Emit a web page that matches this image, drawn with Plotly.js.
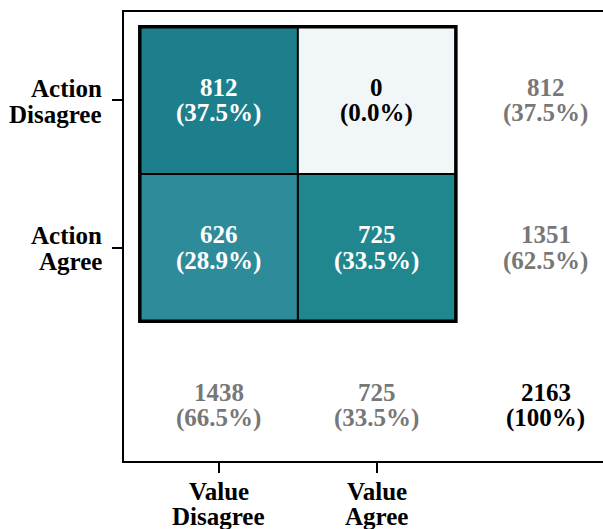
<!DOCTYPE html>
<html>
<head>
<meta charset="utf-8">
<script src="https://cdn.plot.ly/plotly-3.0.1.min.js"></script>
<style>
html,body{margin:0;padding:0;overflow:hidden;background:#fff;}
#chart{width:620px;height:529px;}
</style>
</head>
<body>
<div id="chart"></div>
<script>
// Data
const colLabels = ["Value Disagree", "Value Agree"];
const rowLabels = ["Action Disagree", "Action Agree"];
const colTickLines = [["Value", "Disagree"], ["Value", "Agree"]];
const rowTickLines = [["Action", "Disagree"], ["Action", "Agree"]];
const counts = [[812, 0], [626, 725]];
const rowTotals = [812, 1351];
const colTotals = [1438, 725];
const grandTotal = 2163;

const total = grandTotal;
const pct = v => (100 * v / total).toFixed(1) + "%";

const FONT = "'Liberation Serif', 'Times New Roman', Times, serif";
const FS = 25;
const LS = 13; // half line spacing

const heat = {
  type: "heatmap",
  x: [0, 1],
  y: [0, 1],
  z: counts,
  zmin: 0,
  zmax: 812,
  colorscale: [
    [0, "#f1f6f9"],
    [626 / 812, "#2e8b99"],
    [725 / 812, "#20878f"],
    [1, "#1e7f8c"]
  ],
  showscale: false,
  hoverinfo: "skip"
};

const annotations = [];
function addTwo(x, y, l1, l2, color) {
  [[l1, -LS], [l2, LS]].forEach(([t, dy]) => {
    annotations.push({
      x: x, y: y, xref: "x", yref: "y",
      text: "<b>" + t + "</b>", showarrow: false,
      yshift: -dy, font: {family: FONT, size: FS, color: color},
      xanchor: "center", yanchor: "middle"
    });
  });
}
for (let i = 0; i < rowLabels.length; i++) {
  for (let j = 0; j < colLabels.length; j++) {
    const v = counts[i][j];
    const c = v === 0 ? "#000000" : "#ffffff";
    addTwo(j, i, String(v), "(" + pct(v) + ")", c);
  }
}
const MPOS = 2.07;
const GRAY = "#777777";
for (let i = 0; i < rowTotals.length; i++) {
  addTwo(MPOS, i, String(rowTotals[i]), "(" + pct(rowTotals[i]) + ")", GRAY);
}
for (let j = 0; j < colTotals.length; j++) {
  addTwo(j, MPOS, String(colTotals[j]), "(" + pct(colTotals[j]) + ")", GRAY);
}
addTwo(MPOS, MPOS, String(grandTotal), "(100%)", "#000000");

// Tick labels as two-line annotations (tight line spacing)
for (let i = 0; i < rowTickLines.length; i++) {
  annotations.push({
    x: 0, xref: "paper", y: i, yref: "y", xshift: -20, yshift: 12,
    text: "<b>" + rowTickLines[i][0] + "</b>", showarrow: false,
    xanchor: "right", yanchor: "middle", font: {family: FONT, size: FS, color: "#000"}
  });
  annotations.push({
    x: 0, xref: "paper", y: i, yref: "y", xshift: -20, yshift: -14,
    text: "<b>" + rowTickLines[i][1] + "</b>", showarrow: false,
    xanchor: "right", yanchor: "middle", font: {family: FONT, size: FS, color: "#000"}
  });
}
for (let j = 0; j < colTickLines.length; j++) {
  annotations.push({
    x: j, xref: "x", y: 0, yref: "paper", yshift: -30,
    text: "<b>" + colTickLines[j][0] + "</b>", showarrow: false,
    xanchor: "center", yanchor: "middle", font: {family: FONT, size: FS, color: "#000"}
  });
  annotations.push({
    x: j, xref: "x", y: 0, yref: "paper", yshift: -55,
    text: "<b>" + colTickLines[j][1] + "</b>", showarrow: false,
    xanchor: "center", yanchor: "middle", font: {family: FONT, size: FS, color: "#000"}
  });
}

// Cell borders
const shapes = [];
const nR = rowLabels.length, nC = colLabels.length;
for (let j = 1; j < nC; j++) {
  shapes.push({type: "line", xref: "x", yref: "y", x0: j - 0.5, x1: j - 0.5, y0: -0.5, y1: nR - 0.5,
    line: {color: "#000", width: 2}});
}
for (let i = 1; i < nR; i++) {
  shapes.push({type: "line", xref: "x", yref: "y", x0: -0.5, x1: nC - 0.5, y0: i - 0.5, y1: i - 0.5,
    line: {color: "#000", width: 2}});
}
shapes.push({type: "rect", xref: "x", yref: "y", x0: -0.5, x1: nC - 0.5, y0: -0.5, y1: nR - 0.5,
  line: {color: "#000", width: 3.5}, fillcolor: "rgba(0,0,0,0)"});

const layout = {
  width: 620, height: 529,
  margin: {l: 124, r: 14, t: 12, b: 68},
  paper_bgcolor: "#fff", plot_bgcolor: "#fff",
  showlegend: false,
  font: {family: FONT, size: FS, color: "#000"},
  xaxis: {
    range: [-0.6, 2.45], tickvals: [0, 1], ticktext: colLabels, showticklabels: false,
    ticks: "outside", ticklen: 10, tickwidth: 2, tickcolor: "#000",
    showline: true, linecolor: "#000", linewidth: 2, mirror: true,
    showgrid: false, zeroline: false, fixedrange: true
  },
  yaxis: {
    range: [2.45, -0.6], tickvals: [0, 1], ticktext: rowLabels, showticklabels: false,
    ticks: "outside", ticklen: 10, tickwidth: 2, tickcolor: "#000",
    showline: true, linecolor: "#000", linewidth: 2, mirror: true,
    showgrid: false, zeroline: false, fixedrange: true
  },
  annotations: annotations,
  shapes: shapes
};

Plotly.newPlot("chart", [heat], layout, {displayModeBar: false, staticPlot: true});
</script>
</body>
</html>
